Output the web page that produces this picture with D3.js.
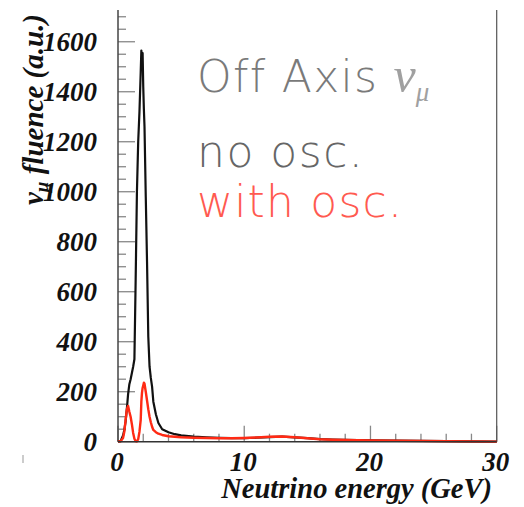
<!DOCTYPE html>
<html><head><meta charset="utf-8">
<script src="https://cdn.jsdelivr.net/npm/d3@7"></script>
<style>
html,body{margin:0;padding:0;background:#fff;}
svg{display:block;}
</style></head>
<body>
<svg id="c" width="524" height="507"></svg>
<script>
// Neutrino energy (GeV) sample points
const energy = [0, 0.2, 0.4, 0.5, 0.6, 0.7, 0.8, 0.9, 1.0, 1.1, 1.2, 1.3, 1.4, 1.5, 1.6, 1.7, 1.8, 1.85, 1.9, 1.95, 2.0, 2.05, 2.1, 2.2, 2.3, 2.4, 2.5, 2.6, 2.7, 2.8, 3.0, 3.2, 3.5, 4, 4.5, 5, 6, 7, 8, 9, 10, 11, 12, 13, 14, 15, 16, 17, 18, 19, 20, 22, 24, 26, 28, 30];
// fluence without oscillation
const noOsc = [0, 2, 25, 47, 80, 130, 190, 230, 250, 275, 300, 330, 650, 1000, 1200, 1320, 1480, 1565, 1530, 1555, 1420, 1330, 1260, 980, 720, 420, 300, 255, 220, 160, 110, 75, 50, 38, 30, 25, 20, 17, 15, 14, 14, 16, 18, 20, 17, 14, 10, 8, 7, 6, 5, 4, 3, 2, 1, 0];
// fluence with oscillation
const withOsc = [0, 2, 15, 40, 85, 130, 143, 120, 100, 70, 35, 12, 2, 1, 10, 40, 87, 160, 195, 215, 225, 236, 232, 200, 165, 130, 100, 78, 60, 47, 38, 32, 27, 22, 20, 18, 16, 15, 14, 14, 15, 17, 20, 21, 18, 14, 10, 8, 7, 6, 5, 4, 3, 2, 1, 0];
const xTickValues = [0, 10, 20, 30];
const yTickValues = [0, 200, 400, 600, 800, 1000, 1200, 1400, 1600];
const legendTitle = "Off Axis ";
const legendLabels = ["no osc.", "with osc."];

const svg = d3.select("#c");
const x = d3.scaleLinear().domain([0, 30]).range([118, 496.7]);
const y = d3.scaleLinear().domain([0, 1727]).range([441.7, 10]);

const serif = "'Liberation Serif','Times New Roman',serif";
const tickCol = "#888";

// minor ticks
const yMinor = d3.range(0, 1701, 50);
svg.append("g").selectAll("line").data(yMinor).join("line")
  .attr("x1", x(0)).attr("x2", d => x(0) + (d % 200 === 0 ? 17 : 8))
  .attr("y1", d => y(d)).attr("y2", d => y(d))
  .attr("stroke", tickCol).attr("stroke-width", 1.3);
const xMinor = d3.range(0, 30.01, 2);
svg.append("g").selectAll("line").data(xMinor).join("line")
  .attr("x1", d => x(d)).attr("x2", d => x(d))
  .attr("y1", y(0)).attr("y2", d => y(0) - (d % 10 === 0 ? 16 : 8))
  .attr("stroke", tickCol).attr("stroke-width", 1.3);

// axes lines (frame)
svg.append("line").attr("x1", x(0)).attr("x2", x(0)).attr("y1", y(0)).attr("y2", 10)
  .attr("stroke", "#444").attr("stroke-width", 1.5);
svg.append("line").attr("x1", x(30)).attr("x2", x(30)).attr("y1", y(0)).attr("y2", 10)
  .attr("stroke", "#555").attr("stroke-width", 1.2);

// curves
const line = d3.line().x((d, i) => x(energy[i])).y(d => y(d));
svg.append("path").datum(noOsc).attr("d", line)
  .attr("fill", "none").attr("stroke", "#111").attr("stroke-width", 2.2).attr("stroke-linejoin", "round");
svg.append("path").datum(withOsc).attr("d", line)
  .attr("fill", "none").attr("stroke", "#ff2a14").attr("stroke-width", 2.4).attr("stroke-linejoin", "round");

svg.append("line").attr("x1", x(0)).attr("x2", x(30)).attr("y1", y(0)).attr("y2", y(0))
  .attr("stroke", "#333").attr("stroke-width", 1.6);

// tick labels
svg.append("g").selectAll("text").data(yTickValues).join("text")
  .attr("x", 97).attr("y", d => y(d) + 9.5)
  .attr("text-anchor", "end")
  .attr("font-family", serif).attr("font-weight", "bold").attr("font-style", "italic")
  .attr("font-size", 27).attr("fill", "#111")
  .text(d => d);
svg.append("g").selectAll("text").data(xTickValues).join("text")
  .attr("x", d => x(d) - 1).attr("y", 471)
  .attr("text-anchor", "middle")
  .attr("font-family", serif).attr("font-weight", "bold").attr("font-style", "italic")
  .attr("font-size", 27).attr("fill", "#111")
  .text(d => d);

// axis titles
svg.append("text")
  .attr("x", 492).attr("y", 498).attr("text-anchor", "end")
  .attr("font-family", serif).attr("font-weight", "bold").attr("font-style", "italic")
  .attr("font-size", 28.5).attr("fill", "#111")
  .text("Neutrino energy (GeV)");

const yt = svg.append("text")
  .attr("transform", "translate(43,205) rotate(-90)")
  .attr("text-anchor", "start")
  .attr("font-family", serif).attr("font-weight", "bold").attr("font-style", "italic")
  .attr("font-size", 29).attr("fill", "#111");
yt.append("tspan").text("ν");
yt.append("tspan").attr("font-size", 19).attr("dy", 5).text("μ");
yt.append("tspan").attr("dy", -5).text(" fluence (a.u.)");

// legend
const sans = "'DejaVu Sans','Lato',sans-serif";
const lt = svg.append("text").attr("x", 197).attr("y", 92)
  .attr("font-family", sans).attr("font-weight", 200).attr("font-size", 44)
  .attr("letter-spacing", 1.3).attr("fill", "#7a7a7a");
lt.append("tspan").text(legendTitle);
lt.append("tspan").attr("font-family", serif).attr("font-style", "italic").attr("font-weight", "normal")
  .attr("font-size", 50).attr("fill", "#a0a0a0").attr("letter-spacing", 0).text("ν");
lt.append("tspan").attr("font-family", serif).attr("font-style", "italic").attr("font-weight", "normal")
  .attr("font-size", 27).attr("fill", "#a0a0a0").attr("dy", 9).text("μ");

svg.append("text").attr("x", 197).attr("y", 167)
  .attr("font-family", sans).attr("font-weight", 200).attr("font-size", 44)
  .attr("letter-spacing", 1.5).attr("fill", "#666")
  .text(legendLabels[0]);
svg.append("text").attr("x", 197).attr("y", 217)
  .attr("font-family", sans).attr("font-weight", 200).attr("font-size", 44)
  .attr("letter-spacing", 1.2).attr("fill", "#ff5a50")
  .text(legendLabels[1]);

// small artifact mark
svg.append("line").attr("x1", 23).attr("x2", 23).attr("y1", 455).attr("y2", 463)
  .attr("stroke", "#999").attr("stroke-width", 1);
</script>
</body></html>
